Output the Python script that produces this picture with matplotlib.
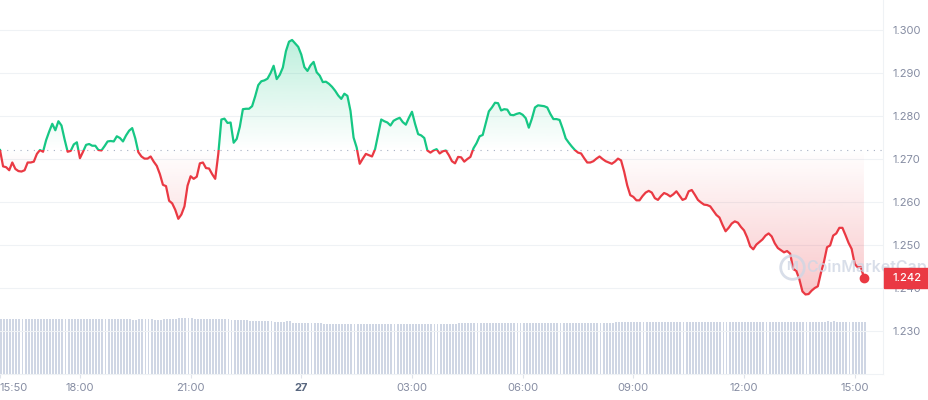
import numpy as np
import pandas as pd
import matplotlib
matplotlib.use("Agg")
import matplotlib.pyplot as plt
import matplotlib.dates as mdates
from matplotlib.path import Path
from matplotlib.patches import Rectangle
from matplotlib.transforms import blended_transform_factory
from matplotlib.colors import to_rgb

plt.rcParams['font.family'] = ['Inter', 'DejaVu Sans']

# price, one value every 5 minutes from 26th 15:50
price = [
    1.2721, 1.2683, 1.2681, 1.2674, 1.2692, 1.2677, 1.2672, 1.2671, 1.2674, 1.2692, 1.2692, 1.2694,
    1.2712, 1.2721, 1.2717, 1.2744, 1.2764, 1.2782, 1.2767, 1.2788, 1.2778, 1.2746, 1.2717, 1.2719,
    1.2734, 1.2739, 1.2702, 1.2717, 1.2733, 1.2735, 1.2731, 1.2731, 1.2721, 1.2720, 1.2730, 1.2741,
    1.2742, 1.2741, 1.2753, 1.2749, 1.2741, 1.2755, 1.2766, 1.2772, 1.2748, 1.2716, 1.2706, 1.2701,
    1.2701, 1.2706, 1.2694, 1.2684, 1.2665, 1.2640, 1.2637, 1.2603, 1.2597, 1.2582, 1.2561, 1.2571,
    1.2590, 1.2638, 1.2660, 1.2654, 1.2659, 1.2690, 1.2692, 1.2679, 1.2678, 1.2665, 1.2654, 1.2712,
    1.2792, 1.2794, 1.2784, 1.2785, 1.2738, 1.2747, 1.2775, 1.2816, 1.2817, 1.2817, 1.2823, 1.2846,
    1.2872, 1.2881, 1.2883, 1.2887, 1.2900, 1.2917, 1.2886, 1.2896, 1.2913, 1.2951, 1.2973, 1.2977,
    1.2969, 1.2961, 1.2943, 1.2914, 1.2905, 1.2918, 1.2926, 1.2902, 1.2894, 1.2879, 1.2880, 1.2875,
    1.2868, 1.2859, 1.2848, 1.2840, 1.2852, 1.2847, 1.2812, 1.2750, 1.2727, 1.2689, 1.2701, 1.2712,
    1.2709, 1.2706, 1.2723, 1.2758, 1.2792, 1.2788, 1.2785, 1.2778, 1.2789, 1.2793, 1.2796, 1.2786,
    1.2780, 1.2796, 1.2810, 1.2782, 1.2758, 1.2755, 1.2749, 1.2720, 1.2715, 1.2720, 1.2723, 1.2713,
    1.2718, 1.2720, 1.2709, 1.2695, 1.2690, 1.2705, 1.2704, 1.2694, 1.2700, 1.2705, 1.2725, 1.2737,
    1.2753, 1.2756, 1.2784, 1.2811, 1.2820, 1.2831, 1.2830, 1.2813, 1.2816, 1.2815, 1.2803, 1.2802,
    1.2805, 1.2807, 1.2803, 1.2795, 1.2773, 1.2794, 1.2820, 1.2825, 1.2824, 1.2823, 1.2820, 1.2805,
    1.2793, 1.2793, 1.2791, 1.2771, 1.2748, 1.2738, 1.2729, 1.2721, 1.2715, 1.2713, 1.2702, 1.2692,
    1.2692, 1.2695, 1.2701, 1.2706, 1.2700, 1.2695, 1.2692, 1.2689, 1.2694, 1.2701, 1.2697, 1.2671,
    1.2639, 1.2616, 1.2612, 1.2604, 1.2604, 1.2614, 1.2622, 1.2626, 1.2622, 1.2609, 1.2605, 1.2614,
    1.2621, 1.2618, 1.2613, 1.2618, 1.2625, 1.2615, 1.2605, 1.2608, 1.2625, 1.2628, 1.2617, 1.2605,
    1.2599, 1.2594, 1.2593, 1.2590, 1.2580, 1.2570, 1.2564, 1.2547, 1.2532, 1.2540, 1.2550, 1.2555,
    1.2552, 1.2542, 1.2534, 1.2518, 1.2497, 1.2490, 1.2501, 1.2507, 1.2513, 1.2522, 1.2527, 1.2520,
    1.2504, 1.2493, 1.2488, 1.2483, 1.2486, 1.2480, 1.2444, 1.2440, 1.2420, 1.2392, 1.2385, 1.2386,
    1.2394, 1.2400, 1.2404, 1.2435, 1.2461, 1.2495, 1.2499, 1.2522, 1.2527, 1.2540, 1.2540, 1.2523,
    1.2505, 1.2491, 1.2456, 1.2448, 1.2449, 1.2424,
]

# 24h volume (M), same timestamps
volume = [
    550, 550, 550, 550, 550, 550, 550, 550, 550, 550, 550, 550,
    550, 550, 550, 550, 550, 550, 550, 550, 550, 550, 550, 550,
    550, 550, 550, 550, 550, 550, 550, 550, 550, 550, 550, 550,
    550, 550, 550, 550, 550, 550, 550, 540, 540, 550, 550, 550,
    550, 550, 540, 540, 540, 550, 550, 550, 550, 550, 560, 560,
    560, 560, 560, 550, 550, 550, 550, 550, 550, 545, 545, 545,
    545, 548, 545, 540, 540, 540, 538, 535, 535, 533, 530, 530,
    528, 527, 525, 527, 525, 522, 520, 520, 518, 527, 527, 513,
    512, 510, 508, 507, 507, 506, 505, 505, 505, 504, 504, 503,
    503, 503, 503, 502, 502, 502, 502, 502, 502, 502, 502, 502,
    500, 500, 500, 500, 498, 498, 500, 500, 500, 500, 500, 500,
    502, 502, 502, 502, 502, 502, 502, 502, 502, 502, 503, 503,
    503, 503, 504, 504, 504, 505, 505, 505, 506, 506, 508, 508,
    508, 508, 510, 510, 510, 510, 510, 510, 510, 510, 510, 510,
    510, 510, 505, 505, 510, 510, 510, 510, 510, 510, 510, 510,
    510, 510, 510, 510, 510, 510, 510, 511, 511, 512, 512, 512,
    512, 512, 512, 512, 513, 513, 513, 513, 515, 515, 517, 518,
    520, 520, 520, 520, 520, 520, 520, 520, 520, 520, 520, 520,
    520, 520, 520, 520, 520, 520, 515, 515, 515, 515, 520, 520,
    520, 520, 520, 520, 520, 520, 520, 520, 520, 520, 520, 520,
    520, 520, 520, 520, 520, 520, 520, 520, 520, 520, 520, 520,
    515, 515, 515, 515, 515, 520, 520, 520, 520, 520, 520, 520,
    522, 522, 522, 522, 522, 525, 522, 528, 522, 522, 522, 522,
    522, 522, 522, 522, 522, 522,
]

y_ticks = [1.230, 1.240, 1.250, 1.260, 1.270, 1.280, 1.290, 1.300]
x_tick_times = ["2023-11-26 15:50", "2023-11-26 18:00", "2023-11-26 21:00", "2023-11-27 00:00",
                "2023-11-27 03:00", "2023-11-27 06:00", "2023-11-27 09:00", "2023-11-27 12:00",
                "2023-11-27 15:00"]
x_tick_labels = ["15:50", "18:00", "21:00", "27", "03:00", "06:00", "09:00", "12:00", "15:00"]

GREEN = '#16c784'
RED = '#ea3943'
GRID = '#eff2f5'
TXT = '#858ca2'

price = np.array(price)
volume = np.array(volume)
times = pd.date_range("2023-11-26 15:50", periods=len(price), freq="5min")
base = price[0]
tnum = mdates.date2num(times)

fig = plt.figure(figsize=(9.29, 4.0), dpi=100)
rect = [0.0, 26 / 400, 883 / 929, 374 / 400]
ax_vol = fig.add_axes(rect)
ax = fig.add_axes(rect, sharex=ax_vol)
ax.patch.set_visible(False)

# volume bars
step = 5 / 1440
ax_vol.bar(times, volume, width=step * 0.62, align='edge', color='#cfd6e4', linewidth=0)
ax_vol.set_ylim(0, volume.max() / 0.15)
ax_vol.axis('off')

x0 = pd.Timestamp("2023-11-26 15:50")
ax.set_xlim(x0, x0 + pd.Timedelta(minutes=1436))
ax.set_ylim(1.2200, 1.3070)

# grid + baseline
for v in y_ticks:
    ax.axhline(v, color=GRID, lw=0.8, zorder=0)
ax.axhline(base, color='#a6b0c3', lw=0.8, ls=(0, (1, 5)), zorder=1)


def gradient_fill(where, color, top, bottom, alpha_at_top):
    coll = ax.fill_between(tnum, price, base, where=where, interpolate=True,
                           facecolor='none', edgecolor='none')
    path = Path.make_compound_path(*coll.get_paths())
    coll.remove()
    grad = np.zeros((256, 1, 4))
    grad[:, :, :3] = to_rgb(color)
    a = np.linspace(0, 1, 256)
    grad[:, 0, 3] = a * 0.28 if alpha_at_top else (1 - a) * 0.28
    im = ax.imshow(grad, extent=[tnum[0], tnum[-1], bottom, top], aspect='auto',
                   origin='lower', zorder=2, interpolation='bilinear')
    im.set_clip_path(path, transform=ax.transData)


gradient_fill(price >= base, GREEN, price.max(), base, True)
gradient_fill(price <= base, RED, base, price.min(), False)

# two-colour line split at the baseline
bt = blended_transform_factory(ax.transAxes, ax.transData)
up, = ax.plot(times, price, color=GREEN, lw=1.6, zorder=3, solid_joinstyle='round')
up.set_clip_path(Rectangle((0, base), 1, 1, transform=bt))
dn, = ax.plot(times, price, color=RED, lw=1.6, zorder=3, solid_joinstyle='round')
dn.set_clip_path(Rectangle((0, base - 1), 1, 1, transform=bt))
ax.plot(times[-1], price[-1], 'o', color=RED, ms=6, zorder=4)

# watermark
ax.plot([0.897], [0.286], marker='o', ms=17, mfc='none', mec='#cfd6e4', mew=2,
        transform=ax.transAxes, alpha=0.8, zorder=5, clip_on=False)
ax.text(0.897, 0.286, 'M', transform=ax.transAxes, ha='center', va='center',
        fontsize=9, color='#cfd6e4', alpha=0.8, fontweight='bold', zorder=5)
ax.text(0.913, 0.286, 'CoinMarketCap', transform=ax.transAxes, ha='left', va='center',
        fontsize=11.5, color='#cfd6e4', alpha=0.8, fontweight='semibold', zorder=5,
        clip_on=False)

# axes styling
for s in ['top', 'left']:
    ax.spines[s].set_visible(False)
ax.spines['right'].set_color(GRID)
ax.spines['bottom'].set_color(GRID)
ax.yaxis.tick_right()
ax.set_yticks(y_ticks)
ax.set_yticklabels([f"{v:.3f}" for v in y_ticks])
ax.tick_params(axis='y', length=0, pad=6.5, labelsize=8, labelcolor=TXT)
ax.set_xticks(pd.to_datetime(x_tick_times))
ax.set_xticklabels(x_tick_labels)
ax.tick_params(axis='x', length=3, color='#dfe3ea', pad=3.5, labelsize=8, labelcolor=TXT)
lbls = ax.get_xticklabels()
lbls[0].set_ha('left')
lbls[3].set_fontweight('bold')
lbls[3].set_color('#58667e')

# last price tag
h = (ax.get_ylim()[1] - ax.get_ylim()[0]) * 20 / 374
ax.add_patch(Rectangle((1.0015, price[-1] - h / 2), 46 / 883, h, transform=bt,
                       color=RED, clip_on=False, zorder=6))
ax.text(1.0 + 9 / 883, price[-1], f"{price[-1]:.3f}", transform=bt, ha='left', va='center',
        fontsize=8, color='white', fontweight='medium', zorder=7, clip_on=False)

fig.savefig('out.png', dpi=100)
